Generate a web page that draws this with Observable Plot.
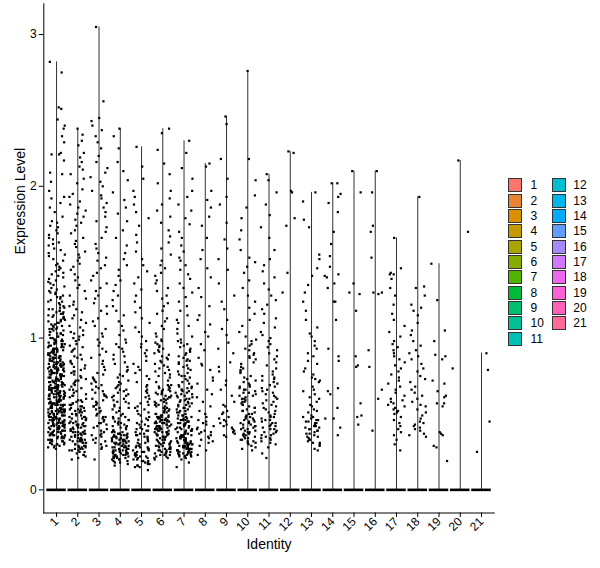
<!DOCTYPE html>
<html>
<head>
<meta charset="utf-8">
<script src="https://cdn.jsdelivr.net/npm/d3@7"></script>
<script src="https://cdn.jsdelivr.net/npm/@observablehq/plot@0.6"></script>
<style>
  html, body { margin: 0; padding: 0; background: #fff; }
  #wrap { position: relative; width: 600px; height: 568px; font-family: "Liberation Sans", Arial, sans-serif; }
  #legend { position: absolute; left: 0; top: 0; width: 600px; height: 568px; pointer-events: none; }
  .key { position: absolute; width: 12px; height: 12px; border: 1.2px solid #333; }
  .lab { position: absolute; font-size: 12px; line-height: 14px; color: #000; }
</style>
</head>
<body>
<div id="wrap"><div id="chart"></div><div id="legend"></div></div>
<script>
// ---------- data ----------
const identities = ["1","2","3","4","5","6","7","8","9","10","11","12","13","14","15","16","17","18","19","20","21"];
const yTicks = [0, 1, 2, 3];

const expr1 = [2.82,2.75,2.52,2.51,2.44,2.40,2.38,2.33,2.29,2.22,2.21,2.21,2.17,2.09,2.08,2.03,1.97,1.93,1.92,1.89,
1.86,1.83,1.80,1.77,1.76,1.73,1.71,1.68,1.66,1.65,1.63,1.61,1.59,1.58,1.56,1.55,1.54,1.52,1.51,1.74,1.69,1.62,
1.49,1.48,1.46,1.45,1.44,1.42,1.41,1.39,1.38,1.37,1.35,1.34,1.33,1.31,1.30,1.29,1.28,1.27,1.26,1.25,1.24,1.23,1.22,1.21,1.47,1.36,1.32,1.43,1.27,1.40,1.24,1.30,
1.20,1.19,1.18,1.17,1.16,1.15,1.14,1.13,1.12,1.11,1.19,1.16,1.13,1.18,1.15,1.12,1.17,1.14,1.11,1.20,
1.10,1.09,1.08,1.07,1.06,1.05,1.04,1.03,1.02,1.01,1.09,1.07,1.05,1.03,1.01,1.08,1.06,1.04,1.02,1.00,1.10,1.06,1.03,1.00,
.99,.98,.97,.96,.95,.97,.99,.96,.98,.95,.97,.99,.96,.98,.95,.96,
.94,.93,.92,.91,.90,.92,.94,.91,.93,.90,.92,.94,.91,.93,.90,.91,.92,.93,
.89,.88,.87,.86,.85,.87,.89,.86,.88,.85,.87,.89,.86,.88,.85,.86,.87,.88,.89,.87,
.84,.83,.82,.81,.80,.82,.84,.81,.83,.80,.82,.84,.81,.83,.80,.81,.82,.83,.84,.80,.82,.83,
.79,.78,.77,.76,.75,.77,.79,.76,.78,.75,.77,.79,.76,.78,.75,.76,.77,.78,.79,.75,.76,.78,
.74,.73,.72,.71,.70,.72,.74,.71,.73,.70,.72,.74,.71,.73,.70,.71,.72,.73,.74,.70,.71,.72,.73,.74,
.69,.68,.67,.66,.65,.67,.69,.66,.68,.65,.67,.69,.66,.68,.65,.66,.67,.68,.69,.65,.66,.67,.68,.69,
.64,.63,.62,.61,.60,.62,.64,.61,.63,.60,.62,.64,.61,.63,.60,.61,.62,.63,.64,.60,.61,.62,.63,.64,
.59,.58,.57,.56,.55,.57,.59,.56,.58,.55,.57,.59,.56,.58,.55,.56,.57,.58,.59,.55,.56,.57,.58,.59,.57,.56,
.54,.53,.52,.51,.50,.52,.54,.51,.53,.50,.52,.54,.51,.53,.50,.51,.52,.53,.54,.50,.51,.52,.53,.54,.52,.51,
.49,.48,.47,.46,.45,.47,.49,.46,.48,.45,.47,.49,.46,.48,.45,.46,.47,.48,.49,.45,.46,.47,.48,.49,
.44,.43,.42,.41,.40,.42,.44,.41,.43,.40,.42,.44,.41,.43,.40,.41,.42,.43,.44,.40,.41,.42,.43,.44,
.39,.38,.37,.36,.35,.37,.39,.36,.38,.35,.37,.39,.36,.38,.35,.36,.37,.38,.39,.35,.36,.38,
.34,.33,.32,.31,.30,.32,.34,.31,.33,.30,.32,.34,.31,.33,.30,.32,
.29,.28,.27,.29,.28,.30];

const expr2 = [2.38,2.34,2.30,2.27,2.22,2.19,2.16,2.13,2.11,2.08,2.05,2.02,
1.98,1.95,1.93,1.90,1.88,1.86,1.84,1.82,1.80,1.78,1.76,1.74,1.71,1.69,1.66,1.64,1.62,1.60,1.57,1.55,1.53,1.51,
1.49,1.47,1.45,1.42,1.40,1.38,1.35,1.33,1.31,1.28,1.26,1.24,1.22,1.21,
1.19,1.17,1.15,1.13,1.12,1.10,1.08,1.07,1.05,1.04,1.03,1.02,1.01,1.00,
.99,.98,.96,.95,.94,.93,.92,.91,
.89,.88,.87,.86,.85,.84,.83,.82,.81,.80,
.79,.78,.78,.77,.76,.75,.74,.73,.72,.72,.71,.70,
.69,.68,.67,.66,.66,.65,.64,.63,.62,.62,.61,.60,
.59,.58,.58,.57,.57,.56,.56,.55,.55,.59,
.54,.54,.53,.53,.52,.52,.51,.51,.50,.50,.53,.52,
.49,.49,.48,.48,.47,.47,.46,.46,.45,.45,.48,.47,
.44,.44,.43,.43,.42,.42,.41,.41,.40,.40,.43,.42,.41,.44,
.39,.39,.38,.38,.37,.37,.36,.36,.35,.35,.38,.37,.36,.39,.37,.38,
.34,.34,.33,.33,.32,.32,.31,.31,.30,.30,.33,.32,.31,.34,.32,.33,
.29,.29,.28,.28,.27,.27,.26,.26,.25,.25,.28,.27,.29,.26,
.24,.23,.22,.21,.20,.23];

const expr3 = [3.05,2.56,2.45,2.43,2.40,2.37,2.33,2.29,2.25,2.20,2.16,2.12,2.09,2.06,2.03,2.00,
1.97,1.94,1.92,1.89,1.86,1.83,1.80,1.77,1.73,1.70,1.66,1.62,1.59,1.56,1.53,1.51,
1.48,1.46,1.43,1.41,1.38,1.36,1.33,1.31,1.28,1.26,1.23,1.21,1.18,1.16,1.13,1.11,1.08,1.06,1.03,1.01,
.99,.97,.95,.93,.91,.89,.87,.85,.83,.81,.79,.77,.76,.74,.73,.72,.71,.70,
.69,.68,.67,.66,.65,.64,.63,.62,.61,.60,.59,.58,.57,.56,.55,.54,.53,.52,.51,.50,.49,.48,.47,.46,.45,.44,.43,.42,.41,.40,.62,.55,.48,.44,
.39,.38,.37,.36,.35,.34,.33,.32,.31,.30,.29,.28,.27,.36,.20];

const expr4 = [2.38,2.33,2.25,2.16,2.10,2.04,
1.96,1.91,1.86,1.82,1.77,1.71,1.66,1.61,1.56,1.52,
1.48,1.45,1.41,1.38,1.35,1.31,1.28,1.25,1.21,1.18,1.15,1.11,1.08,1.05,1.02,
.99,.97,.96,.94,.93,.91,.89,.88,.86,.84,.83,.81,.79,.78,.76,.75,.74,.72,.71,.70,
.69,.68,.67,.66,.65,.64,.63,.62,.61,.60,.59,.58,.57,.56,.55,.54,.53,.52,.51,.50,.66,.62,.58,.54,
.49,.48,.47,.46,.45,.44,.43,.42,.41,.40,.48,.46,.44,.42,.47,.45,.43,.41,
.39,.38,.37,.36,.35,.34,.33,.32,.31,.30,.38,.36,.34,.32,.30,.39,.37,.35,.33,.31,
.38,.37,.36,.35,.34,.33,.32,.31,.30,.39,.36,.34,.32,.35,.33,.31,.37,.34,.32,.30,
.29,.28,.27,.26,.25,.24,.23,.22,.21,.20,.28,.26,.24,.22,.20,.29,.27,.25,.23,.21,
.28,.27,.26,.25,.24,.23,.22,.21,.29,.26,.24,.22,.27,.25,.23,.21,.28,.26,.24,.20,
.19,.18,.17,.16,.19,.18];

const expr5 = [2.26,2.13,2.05,
1.97,1.93,1.88,1.83,1.79,1.74,1.68,1.63,1.57,1.52,
1.48,1.44,1.40,1.36,1.32,1.28,1.24,1.20,1.17,1.13,1.10,1.07,1.04,1.01,
.98,.96,.94,.92,.90,.88,.85,.83,.81,.79,.77,.75,.73,.71,
.69,.68,.66,.65,.64,.62,.61,.60,.58,.57,.56,.55,.54,.53,.52,.51,.50,.49,.48,.47,.46,.45,
.44,.43,.42,.41,.40,.39,.38,.37,.36,.35,.34,.33,.32,.31,.30,.43,.41,.39,.37,.35,.33,.31,.40,.36,
.29,.28,.27,.26,.25,.24,.23,.22,.21,.20,.19,.18,.17,.16,.15,
.28,.27,.26,.25,.24,.23,.22,.21,.20,.19,.18,.17,.16,.15,.29,
.28,.25,.22,.19,.13];

const expr6 = [2.38,2.35,2.24,2.15,2.08,2.02,
1.97,1.92,1.88,1.84,1.80,1.76,1.71,1.67,1.63,1.59,1.55,1.51,
1.48,1.46,1.43,1.41,1.38,1.36,1.33,1.31,1.28,1.26,1.23,1.21,1.18,1.16,1.13,1.11,1.08,1.06,1.03,1.01,
.99,.98,.97,.96,.95,.94,.93,.92,.91,.90,.89,.88,.87,.86,.85,.84,.83,.82,.81,.80,.79,.78,.77,.76,.75,.74,.72,.71,
.69,.68,.67,.66,.65,.64,.63,.62,.61,.60,.59,.58,.57,.56,.55,.54,.53,.52,.51,.50,
.68,.67,.66,.65,.64,.63,.62,.61,.60,.59,.58,.57,.56,.55,.54,.53,.52,.51,.50,.69,
.49,.48,.47,.46,.45,.44,.43,.42,.41,.40,.39,.38,.37,.36,.35,
.48,.47,.46,.45,.44,.43,.42,.41,.40,.39,.38,.37,.36,.35,.49,
.47,.46,.45,.44,.43,.42,.41,.40,.39,.38,.37,.36,.35,.49,.48,
.48,.46,.44,.42,.40,.38,.36,.45,.41,
.34,.33,.32,.31,.30,.29,.28,.27,.26,.25,.24,.23,.22,.21,.20,
.33,.32,.31,.30,.29,.28,.27,.26,.25,.24,.23,.22,.21,.34,.31,
.33,.31,.29,.27,.25,.23,.30,.28,.26,.24];

const expr7 = [2.30,2.22,2.12,2.05,
1.97,1.93,1.88,1.84,1.79,1.75,1.70,1.66,1.61,1.57,1.53,1.51,
1.48,1.45,1.42,1.39,1.36,1.33,1.30,1.27,1.24,1.21,1.18,1.15,1.12,1.10,1.08,1.06,1.03,1.01,
.99,.98,.97,.96,.95,.94,.93,.92,.91,.90,.89,.88,.87,.86,.85,.84,.83,.82,.81,.80,.79,.78,.77,.76,.75,.74,.73,.72,.71,.70,.85,.75,
.69,.68,.67,.66,.65,.64,.63,.62,.61,.60,.59,.58,.57,.56,.55,.54,.53,.52,.51,.50,
.68,.67,.66,.65,.64,.63,.62,.61,.60,.59,.58,.57,.56,.55,.54,.53,.52,.51,
.49,.48,.47,.46,.45,.44,.43,.42,.41,.40,.39,.38,.37,.36,.35,
.48,.47,.46,.45,.44,.43,.42,.41,.40,.39,.38,.37,.36,.35,.49,
.47,.46,.45,.44,.43,.42,.41,.40,.39,.38,.37,.36,.35,.49,
.34,.33,.32,.31,.30,.29,.28,.27,.26,.25,.24,.23,.22,
.33,.32,.31,.30,.29,.28,.27,.26,.25,.24,.23,.22,.34,
.32,.31,.30,.29,.28,.27,.26,.25,.24,.23,.22,.34,.33,
.31,.30,.29,.28,.27,.26,.25,.24,.23,.22,.34,.33,.32,
.21,.20,.18,.15];

const expr8 = [2.15,2.13,1.97,1.91,1.86,1.80,1.74,1.66,1.58,1.52,
1.46,1.40,1.33,1.27,1.21,1.15,1.09,1.04,1.01,1.12,
.96,.92,.87,.83,.79,.74,.70,.66,.63,.61,.82,.72,
.58,.55,.52,.50,.48,.46,.45,.44,.42,.41,.40,.39,.38,.37,.36,.35,.34,.33,.32,.31,.43,.38,
.29,.26,.23];

const expr9 = [2.46,2.41,2.18,2.05,1.93,1.88,1.76,1.65,1.59,1.52,
1.45,1.36,1.28,1.19,1.12,1.06,1.02,1.24,
.97,.90,.84,.78,.72,.66,.62,.93,.81,.69,
.58,.55,.52,.50,.48,.46,.44,.43,.42,.41,.40,.39,.38,.37,.36,.35,.47,.45,.51,.56];

const expr10 = [2.76,2.18,2.04,
1.94,1.86,1.79,1.71,1.65,1.58,1.53,1.50,
1.47,1.43,1.38,1.33,1.28,1.24,1.20,1.16,1.12,1.08,1.04,1.01,
.99,.98,.96,.95,.93,.92,.90,.89,.87,.86,.84,.83,.81,.80,.78,.77,.75,.74,.73,.72,.71,.70,.88,.79,
.69,.68,.67,.66,.65,.64,.63,.62,.61,.60,.59,.58,.57,.56,.55,.54,.53,.52,.51,.50,
.68,.66,.64,.62,.60,.58,.56,.54,.52,.50,
.49,.48,.47,.46,.45,.44,.43,.42,.41,.40,.39,.38,.37,.36,.35,.34,.33,.32,.31,.30,
.48,.46,.45,.44,.42,.41,.40,.38,.37,.36,.35,.34,.33,.32,.31,.47,.43,.39,
.29,.28,.27,.26];

const expr11 = [2.08,2.04,1.96,1.88,1.81,1.73,1.66,1.58,1.52,
1.48,1.44,1.40,1.36,1.32,1.28,1.25,1.22,1.19,1.16,1.13,1.10,1.07,1.04,1.02,1.00,
.98,.96,.94,.92,.90,.88,.86,.84,.82,.80,.78,.76,.75,.74,.73,.72,.71,.70,
.69,.68,.67,.66,.65,.64,.63,.62,.61,.60,.59,.58,.57,.56,.55,.54,.53,.52,.51,.50,
.49,.48,.47,.46,.45,.44,.43,.42,.41,.40,.39,.38,.37,.36,.35,.34,.33,.32,.31,.30,
.48,.46,.44,.42,.40,.38,.36,.34,
.28,.24,.21];

const expr12 = [2.23,2.22,1.97,1.96,1.79,1.74,1.43,1.30];

const expr13 = [1.96,1.90,1.78,1.73,1.55,1.52,
1.46,1.41,1.35,1.30,1.24,1.18,1.12,1.07,1.03,1.01,
.98,.95,.93,.90,.88,.85,.83,.80,.78,.76,.74,.73,.72,.71,
.68,.66,.65,.63,.61,.60,.58,.56,.55,.53,.52,.51,
.49,.48,.47,.46,.45,.44,.43,.42,.41,.40,.39,.38,.37,.36,.35,.34,.33,.32,.31,.30,
.48,.46,.45,.44,.42,.41,.40,.39,.37,.35,.33,.31,
.29,.27,.26];

const expr14 = [2.02,2.02,1.95,1.93,1.89,1.83,1.70,1.62,1.54,1.47,1.42,1.40,1.41,1.36,1.33,1.24,1.24,1.12,
.93,.88,.85,.67,.65,.63,.54,.47,.47,.41,.36];

const expr15 = [2.10,1.96,1.36,1.30,1.29,1.18,.88,.82,.81,.57,.48,.49,.43];

const expr16 = [2.10,1.96,1.74,1.70,1.53,1.30,1.29,1.30,.92,.81,.66,.60,.39];

const expr17 = [1.66,1.46,1.43,1.42,1.42,1.39,1.33,1.28,1.22,1.16,1.12,1.08,1.04,1.01,
.98,.96,.94,.92,.90,.88,.86,.84,.82,.80,.78,.76,.74,.72,.70,
.68,.66,.64,.62,.60,.59,.58,.57,.56,.55,.54,.53,.52,.51,.50,
.48,.46,.44,.42,.40,.38,.36,.33,.30,.26];

const expr18 = [1.93,1.34,1.33,1.28,1.22,1.20,1.18,1.15,1.10,1.05,1.02,
.98,.95,.92,.90,.88,.86,.83,.80,.78,.75,.73,.71,
.68,.66,.64,.62,.60,.58,.56,.55,.53,.51,
.49,.47,.45,.44,.43,.42,.41,.40,.39,.37,.36,.35];

const expr19 = [1.49,1.25,1.05,.98,.86,.88,.89,.70,.65,.72,.61,.62,.57,.55,.57,.36,.37,.38,.29,.28,.19];

const expr20 = [2.17,1.70,.80];

const expr21 = [.90,.79,.45,.25];

const exprByIdentity = [expr1,expr2,expr3,expr4,expr5,expr6,expr7,expr8,expr9,expr10,
  expr11,expr12,expr13,expr14,expr15,expr16,expr17,expr18,expr19,expr20,expr21];

// ---------- ggplot2 default hue palette (hcl, c=100, l=65) ----------
function hcl2hex(h, c, l) {
  const WU = 0.1978398, WV = 0.4683363, WY = 100;
  const U = c * Math.cos(h * Math.PI / 180), V = c * Math.sin(h * Math.PI / 180);
  const Y = WY * (l > 7.999592 ? Math.pow((l + 16) / 116, 3) : l / 903.3);
  const u = U / (13 * l) + WU, v = V / (13 * l) + WV;
  const X = 9 * Y * u / (4 * v);
  const Z = -X / 3 - 5 * Y + 3 * Y / v;
  const g = t => t > 0.00304 ? 1.055 * Math.pow(t, 1 / 2.4) - 0.055 : 12.92 * t;
  const cl = t => Math.round(255 * Math.max(0, Math.min(1, t)));
  const r = cl(g((3.240479 * X - 1.537150 * Y - 0.498535 * Z) / WY));
  const gg = cl(g((-0.969256 * X + 1.875992 * Y + 0.041556 * Z) / WY));
  const b = cl(g((0.055648 * X - 0.204043 * Y + 1.057311 * Z) / WY));
  return "#" + [r, gg, b].map(x => x.toString(16).padStart(2, "0")).join("");
}
const n = identities.length;
const palette = identities.map((_, i) => hcl2hex(15 + i * 360 / n, 100, 65));

// ---------- derived tables ----------
function hash(i, k) { const s = Math.sin(i * 127.1 + k * 311.7) * 43758.5453; return s - Math.floor(s); }
const summary = identities.map((id, k) => ({id, idx: k + 1, max: d3.max(exprByIdentity[k]), zero: 0}));
const points = [];
exprByIdentity.forEach((vals, k) => vals.forEach((v, i) => {
  points.push({id: identities[k], value: v, xj: k + 1 + (hash(i + 1, k + 1) - 0.5) * 0.8});
}));

const chart = Plot.plot({
  width: 600,
  height: 568,
  marginLeft: 43.3,
  marginRight: 106.25,
  marginTop: 3.3,
  marginBottom: 55.5,
  style: {fontFamily: "'Liberation Sans', Arial, sans-serif", fontSize: "12px", background: "white", color: "black", overflow: "visible"},
  x: {type: "linear", domain: [0.4, n + 0.6], ticks: identities.map((_, i) => i + 1), tickFormat: d => identities[d - 1],
      tickRotate: -45, tickSize: 4.5, tickPadding: 2, line: true, label: null},
  y: {domain: [-0.1525, 3.2025], ticks: yTicks, tickFormat: d => String(d), tickSize: 4.5, tickPadding: 2.5, line: true, label: null},
  marks: [
    Plot.ruleX(summary, {x: "idx", y1: "zero", y2: "max", stroke: "#333", strokeWidth: 1}),
    Plot.ruleY(summary, {y: "zero", x1: d => d.idx - 0.46, x2: d => d.idx + 0.46, stroke: "#000", strokeWidth: 2.6}),
    Plot.dot(points, {x: "xj", y: "value", r: 1.25, symbol: "square", fill: "#000", stroke: null}),
    Plot.text(["Identity"], {frameAnchor: "bottom", dy: 35.5, fontSize: 14, fill: "#000"}),
    Plot.text(["Expression Level"], {frameAnchor: "left", dx: -23, dy: -4, rotate: -90, fontSize: 14, fill: "#000"})
  ]
});
document.getElementById("chart").appendChild(chart);

// ---------- legend (HTML, right of panel) ----------
const legend = document.getElementById("legend");
identities.forEach((id, i) => {
  const col = i < 11 ? 0 : 1, row = i < 11 ? i : i - 11;
  const top = 178.3 + row * 15.34;
  const key = document.createElement("div");
  key.className = "key";
  key.style.left = (col ? 551.7 : 508.3) + "px";
  key.style.top = top + "px";
  key.style.background = palette[i];
  legend.appendChild(key);
  const lab = document.createElement("div");
  lab.className = "lab";
  lab.style.left = (col ? 573.3 : 530.5) + "px";
  lab.style.top = top + "px";
  lab.textContent = id;
  legend.appendChild(lab);
});
</script>
</body>
</html>
